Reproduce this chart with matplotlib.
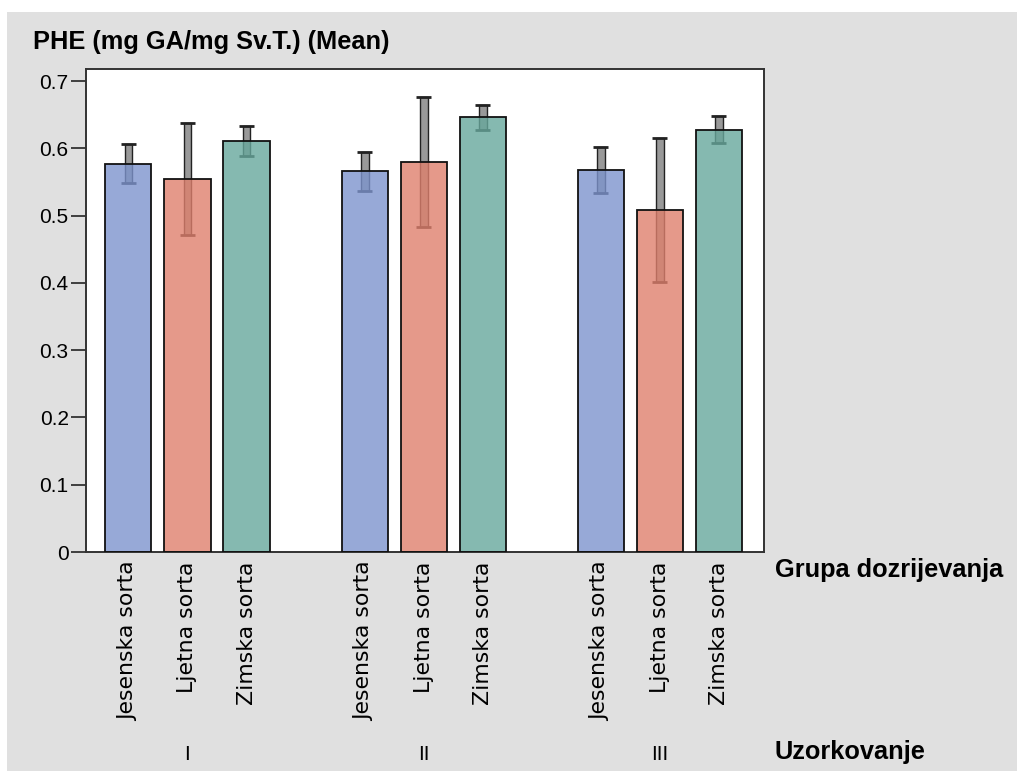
import numpy as np
import matplotlib
matplotlib.use('Agg')
import matplotlib.pyplot as plt
from matplotlib.patches import Rectangle

# data
sortas = ['Jesenska sorta', 'Ljetna sorta', 'Zimska sorta']
uzorkovanje = ['I', 'II', 'III']
means = [0.577, 0.554, 0.611,
         0.566, 0.580, 0.646,
         0.568, 0.508, 0.628]
errors = [0.029, 0.083, 0.023,
          0.029, 0.097, 0.019,
          0.034, 0.107, 0.020]

colors = [(125/255, 148/255, 205/255, 0.8),
          (223/255, 128/255, 109/255, 0.8),
          (103/255, 168/255, 156/255, 0.8)]

plt.rcParams['font.family'] = ['Liberation Sans', 'DejaVu Sans']

fig = plt.figure(figsize=(10.17, 7.71), dpi=100, facecolor='white')
# gray panel behind everything (white strip at top and left)
fig.patches.append(Rectangle((7 / 1017, 0), 1, 1 - 12 / 771,
                             transform=fig.transFigure, facecolor='#e0e0e0',
                             edgecolor='none', zorder=-10))

ax = fig.add_axes([86 / 1017, (771 - 552) / 771, (764 - 86) / 1017, (552 - 69) / 771])
ax.set_facecolor('white')

# bar positions: 3 per group, gap of one slot between groups
x = np.array([g * 4 + i for g in range(len(uzorkovanje)) for i in range(len(sortas))], dtype=float)
means = np.array(means)
errors = np.array(errors)
bar_colors = [colors[i % 3] for i in range(len(means))]

# error bars as thin gray rectangles with caps, drawn under the (slightly transparent) bars
ax.bar(x, 2 * errors, bottom=means - errors, width=0.135, color='#999999',
       edgecolor='#222222', linewidth=1.0, zorder=1)
ax.hlines(means + errors, x - 0.12, x + 0.12, color='#222222', linewidth=2.0, zorder=1)
ax.hlines(means - errors, x - 0.12, x + 0.12, color='#222222', linewidth=2.0, zorder=1)
ax.bar(x, means, width=0.78, color=bar_colors, edgecolor='none', zorder=2)
ax.bar(x, means, width=0.78, color='none', edgecolor='#111111', linewidth=1.3, zorder=3)

ax.set_xlim(-0.72, 10.77)
ax.set_ylim(0, 0.718)
ax.set_yticks([0, 0.1, 0.2, 0.3, 0.4, 0.5, 0.6, 0.7])
ax.set_yticklabels(['0', '0.1', '0.2', '0.3', '0.4', '0.5', '0.6', '0.7'], fontsize=15)
ax.tick_params(axis='y', length=10.5, width=1.3, color='#333333', pad=2)

ax.set_xticks(x)
ax.set_xticklabels([sortas[i % 3] for i in range(len(x))], rotation=90,
                   fontsize=15.8, va='top', ha='center')
for lab in ax.get_xticklabels():
    lab.set_fontfamily('DejaVu Sans')
ax.tick_params(axis='x', length=0, pad=7)

for sp in ax.spines.values():
    sp.set_linewidth(1.4)
    sp.set_color('#333333')

# roman numerals under the middle bar of each group
for g, lab in enumerate(uzorkovanje):
    ax.text(g * 4 + 1, -(754 - 552) / (552 - 69), lab, transform=ax.get_xaxis_transform(),
            ha='center', va='center', fontsize=15)

fig.text(33 / 1017, 1 - 42 / 771, 'PHE (mg GA/mg Sv.T.) (Mean)', fontsize=18.3,
         fontweight='bold', ha='left', va='center')
fig.text(775 / 1017, 1 - 570 / 771, 'Grupa dozrijevanja', fontsize=18.3,
         fontweight='bold', ha='left', va='center')
fig.text(775 / 1017, 1 - 752 / 771, 'Uzorkovanje', fontsize=18.3,
         fontweight='bold', ha='left', va='center')

fig.savefig('out.png', dpi=100, facecolor=fig.get_facecolor())
